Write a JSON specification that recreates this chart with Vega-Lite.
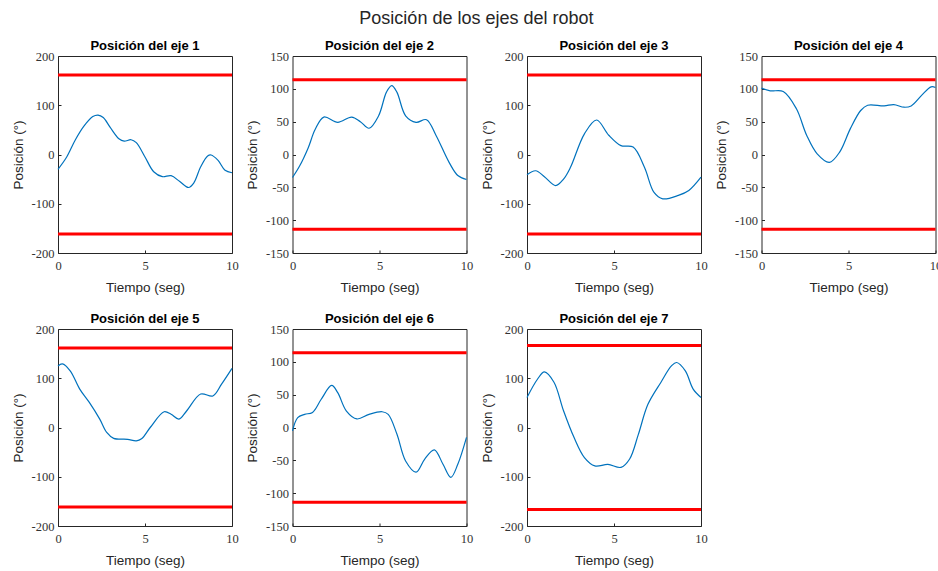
{
  "$schema": "https://vega.github.io/schema/vega-lite/v6.json",
  "background": "white",
  "padding": {"left": 10, "top": 9, "right": 0, "bottom": 0},
  "title": {"text": "Posición de los ejes del robot", "fontSize": 18, "fontWeight": "normal", "font": "Liberation Sans", "color": "#262626", "anchor": "middle", "offset": 12},
  "datasets": {
    "curvas": [
      {"eje": 1, "t": 0, "pos": -30}, {"eje": 1, "t": 0.5, "pos": -5}, {"eje": 1, "t": 1.0, "pos": 30}, {"eje": 1, "t": 1.5, "pos": 58}, {"eje": 1, "t": 2.0, "pos": 77}, {"eje": 1, "t": 2.3, "pos": 80}, {"eje": 1, "t": 2.6, "pos": 75}, {"eje": 1, "t": 3.0, "pos": 55}, {"eje": 1, "t": 3.5, "pos": 32}, {"eje": 1, "t": 3.8, "pos": 27}, {"eje": 1, "t": 4.2, "pos": 30}, {"eje": 1, "t": 4.5, "pos": 24}, {"eje": 1, "t": 5.0, "pos": -5}, {"eje": 1, "t": 5.5, "pos": -35}, {"eje": 1, "t": 6.0, "pos": -45}, {"eje": 1, "t": 6.5, "pos": -43}, {"eje": 1, "t": 7.0, "pos": -55}, {"eje": 1, "t": 7.5, "pos": -67}, {"eje": 1, "t": 7.8, "pos": -58}, {"eje": 1, "t": 8.2, "pos": -25}, {"eje": 1, "t": 8.6, "pos": -3}, {"eje": 1, "t": 8.8, "pos": -1}, {"eje": 1, "t": 9.2, "pos": -12}, {"eje": 1, "t": 9.6, "pos": -32}, {"eje": 1, "t": 10, "pos": -37},
      {"eje": 2, "t": 0, "pos": -35}, {"eje": 2, "t": 0.4, "pos": -18}, {"eje": 2, "t": 0.9, "pos": 10}, {"eje": 2, "t": 1.3, "pos": 38}, {"eje": 2, "t": 1.8, "pos": 57}, {"eje": 2, "t": 2.6, "pos": 49}, {"eje": 2, "t": 3.4, "pos": 57}, {"eje": 2, "t": 3.9, "pos": 50}, {"eje": 2, "t": 4.4, "pos": 40}, {"eje": 2, "t": 4.95, "pos": 59}, {"eje": 2, "t": 5.4, "pos": 95}, {"eje": 2, "t": 5.7, "pos": 105}, {"eje": 2, "t": 6.0, "pos": 95}, {"eje": 2, "t": 6.5, "pos": 59}, {"eje": 2, "t": 7.1, "pos": 49}, {"eje": 2, "t": 7.7, "pos": 53}, {"eje": 2, "t": 8.25, "pos": 29}, {"eje": 2, "t": 9.0, "pos": -12}, {"eje": 2, "t": 9.5, "pos": -32}, {"eje": 2, "t": 10, "pos": -38},
      {"eje": 3, "t": 0, "pos": -41}, {"eje": 3, "t": 0.5, "pos": -33}, {"eje": 3, "t": 1.0, "pos": -45}, {"eje": 3, "t": 1.65, "pos": -63}, {"eje": 3, "t": 2.1, "pos": -50}, {"eje": 3, "t": 2.5, "pos": -26}, {"eje": 3, "t": 3.3, "pos": 42}, {"eje": 3, "t": 4.0, "pos": 70}, {"eje": 3, "t": 4.7, "pos": 39}, {"eje": 3, "t": 5.4, "pos": 18}, {"eje": 3, "t": 6.1, "pos": 15}, {"eje": 3, "t": 6.75, "pos": -26}, {"eje": 3, "t": 7.3, "pos": -77}, {"eje": 3, "t": 7.8, "pos": -90}, {"eje": 3, "t": 8.7, "pos": -83}, {"eje": 3, "t": 9.3, "pos": -73}, {"eje": 3, "t": 10, "pos": -46},
      {"eje": 4, "t": 0, "pos": 101}, {"eje": 4, "t": 0.5, "pos": 97}, {"eje": 4, "t": 1.25, "pos": 96}, {"eje": 4, "t": 2.0, "pos": 70}, {"eje": 4, "t": 2.6, "pos": 29}, {"eje": 4, "t": 3.2, "pos": 1}, {"eje": 4, "t": 3.9, "pos": -12}, {"eje": 4, "t": 4.5, "pos": 4}, {"eje": 4, "t": 5.1, "pos": 39}, {"eje": 4, "t": 5.7, "pos": 67}, {"eje": 4, "t": 6.1, "pos": 75}, {"eje": 4, "t": 7.05, "pos": 74}, {"eje": 4, "t": 7.6, "pos": 76}, {"eje": 4, "t": 8.2, "pos": 72}, {"eje": 4, "t": 8.6, "pos": 74}, {"eje": 4, "t": 9.2, "pos": 90}, {"eje": 4, "t": 9.75, "pos": 103}, {"eje": 4, "t": 10, "pos": 102},
      {"eje": 5, "t": 0, "pos": 125}, {"eje": 5, "t": 0.25, "pos": 129}, {"eje": 5, "t": 0.7, "pos": 115}, {"eje": 5, "t": 1.25, "pos": 78}, {"eje": 5, "t": 1.8, "pos": 51}, {"eje": 5, "t": 2.4, "pos": 17}, {"eje": 5, "t": 2.8, "pos": -10}, {"eje": 5, "t": 3.2, "pos": -22}, {"eje": 5, "t": 4.0, "pos": -24}, {"eje": 5, "t": 4.5, "pos": -27}, {"eje": 5, "t": 4.8, "pos": -23}, {"eje": 5, "t": 5.3, "pos": 0}, {"eje": 5, "t": 6.1, "pos": 32}, {"eje": 5, "t": 6.5, "pos": 27}, {"eje": 5, "t": 6.95, "pos": 17}, {"eje": 5, "t": 7.4, "pos": 34}, {"eje": 5, "t": 8.2, "pos": 68}, {"eje": 5, "t": 8.9, "pos": 64}, {"eje": 5, "t": 9.4, "pos": 88}, {"eje": 5, "t": 10, "pos": 120},
      {"eje": 6, "t": 0, "pos": -5}, {"eje": 6, "t": 0.3, "pos": 15}, {"eje": 6, "t": 0.7, "pos": 20}, {"eje": 6, "t": 1.15, "pos": 23}, {"eje": 6, "t": 1.65, "pos": 43}, {"eje": 6, "t": 2.25, "pos": 64}, {"eje": 6, "t": 2.6, "pos": 53}, {"eje": 6, "t": 3.1, "pos": 25}, {"eje": 6, "t": 3.7, "pos": 13}, {"eje": 6, "t": 4.4, "pos": 20}, {"eje": 6, "t": 5.15, "pos": 24}, {"eje": 6, "t": 5.5, "pos": 20}, {"eje": 6, "t": 6.0, "pos": -10}, {"eje": 6, "t": 6.5, "pos": -51}, {"eje": 6, "t": 7.1, "pos": -68}, {"eje": 6, "t": 7.6, "pos": -48}, {"eje": 6, "t": 8.15, "pos": -34}, {"eje": 6, "t": 8.65, "pos": -56}, {"eje": 6, "t": 9.1, "pos": -76}, {"eje": 6, "t": 9.5, "pos": -56}, {"eje": 6, "t": 10, "pos": -15},
      {"eje": 7, "t": 0, "pos": 61}, {"eje": 7, "t": 0.6, "pos": 98}, {"eje": 7, "t": 1.0, "pos": 113}, {"eje": 7, "t": 1.55, "pos": 92}, {"eje": 7, "t": 2.1, "pos": 34}, {"eje": 7, "t": 2.7, "pos": -20}, {"eje": 7, "t": 3.3, "pos": -61}, {"eje": 7, "t": 3.9, "pos": -78}, {"eje": 7, "t": 4.65, "pos": -75}, {"eje": 7, "t": 5.4, "pos": -81}, {"eje": 7, "t": 5.9, "pos": -64}, {"eje": 7, "t": 6.4, "pos": -14}, {"eje": 7, "t": 6.95, "pos": 47}, {"eje": 7, "t": 7.7, "pos": 92}, {"eje": 7, "t": 8.3, "pos": 125}, {"eje": 7, "t": 8.6, "pos": 132}, {"eje": 7, "t": 9.1, "pos": 115}, {"eje": 7, "t": 9.55, "pos": 78}, {"eje": 7, "t": 10, "pos": 61}
    ],
    "limites": [
      {"eje": 1, "lim": 161.5}, {"eje": 1, "lim": -161.5},
      {"eje": 2, "lim": 114}, {"eje": 2, "lim": -114},
      {"eje": 3, "lim": 161.5}, {"eje": 3, "lim": -161.5},
      {"eje": 4, "lim": 114}, {"eje": 4, "lim": -114},
      {"eje": 5, "lim": 161.5}, {"eje": 5, "lim": -161.5},
      {"eje": 6, "lim": 114}, {"eje": 6, "lim": -114},
      {"eje": 7, "lim": 166.25}, {"eje": 7, "lim": -166.25}
    ]
  },
  "columns": 4,
  "spacing": {"row": 76, "column": 60.5},
  "bounds": "flush",
  "concat": [
    {"title": "Posición del eje 1", "width": 174, "height": 197, "layer": [
      {"data": {"name": "limites"}, "transform": [{"filter": "datum.eje == 1"}], "mark": {"type": "rule", "color": "#ff0000", "strokeWidth": 3}, "encoding": {"y": {"field": "lim", "type": "quantitative", "title": "Posición (°)", "scale": {"domain": [-200, 200], "nice": false}, "axis": {"values": [-200, -100, 0, 100, 200], "labelOverlap": false}}}},
      {"data": {"name": "curvas"}, "transform": [{"filter": "datum.eje == 1"}], "mark": {"type": "line", "color": "#0072BD", "strokeWidth": 1.2, "interpolate": "catmull-rom"}, "encoding": {"x": {"field": "t", "type": "quantitative", "title": "Tiempo (seg)", "scale": {"domain": [0, 10], "nice": false}, "axis": {"values": [0, 5, 10]}}, "y": {"field": "pos", "type": "quantitative", "title": "Posición (°)", "axis": {"values": [-200, -100, 0, 100, 200], "labelOverlap": false}}}}
    ]},
    {"title": "Posición del eje 2", "width": 174, "height": 197, "layer": [
      {"data": {"name": "limites"}, "transform": [{"filter": "datum.eje == 2"}], "mark": {"type": "rule", "color": "#ff0000", "strokeWidth": 3}, "encoding": {"y": {"field": "lim", "type": "quantitative", "title": "Posición (°)", "scale": {"domain": [-150, 150], "nice": false}, "axis": {"values": [-150, -100, -50, 0, 50, 100, 150], "labelOverlap": false}}}},
      {"data": {"name": "curvas"}, "transform": [{"filter": "datum.eje == 2"}], "mark": {"type": "line", "color": "#0072BD", "strokeWidth": 1.2, "interpolate": "catmull-rom"}, "encoding": {"x": {"field": "t", "type": "quantitative", "title": "Tiempo (seg)", "scale": {"domain": [0, 10], "nice": false}, "axis": {"values": [0, 5, 10]}}, "y": {"field": "pos", "type": "quantitative", "title": "Posición (°)", "axis": {"values": [-150, -100, -50, 0, 50, 100, 150], "labelOverlap": false}}}}
    ]},
    {"title": "Posición del eje 3", "width": 174, "height": 197, "layer": [
      {"data": {"name": "limites"}, "transform": [{"filter": "datum.eje == 3"}], "mark": {"type": "rule", "color": "#ff0000", "strokeWidth": 3}, "encoding": {"y": {"field": "lim", "type": "quantitative", "title": "Posición (°)", "scale": {"domain": [-200, 200], "nice": false}, "axis": {"values": [-200, -100, 0, 100, 200], "labelOverlap": false}}}},
      {"data": {"name": "curvas"}, "transform": [{"filter": "datum.eje == 3"}], "mark": {"type": "line", "color": "#0072BD", "strokeWidth": 1.2, "interpolate": "catmull-rom"}, "encoding": {"x": {"field": "t", "type": "quantitative", "title": "Tiempo (seg)", "scale": {"domain": [0, 10], "nice": false}, "axis": {"values": [0, 5, 10]}}, "y": {"field": "pos", "type": "quantitative", "title": "Posición (°)", "axis": {"values": [-200, -100, 0, 100, 200], "labelOverlap": false}}}}
    ]},
    {"title": "Posición del eje 4", "width": 174, "height": 197, "layer": [
      {"data": {"name": "limites"}, "transform": [{"filter": "datum.eje == 4"}], "mark": {"type": "rule", "color": "#ff0000", "strokeWidth": 3}, "encoding": {"y": {"field": "lim", "type": "quantitative", "title": "Posición (°)", "scale": {"domain": [-150, 150], "nice": false}, "axis": {"values": [-150, -100, -50, 0, 50, 100, 150], "labelOverlap": false}}}},
      {"data": {"name": "curvas"}, "transform": [{"filter": "datum.eje == 4"}], "mark": {"type": "line", "color": "#0072BD", "strokeWidth": 1.2, "interpolate": "catmull-rom"}, "encoding": {"x": {"field": "t", "type": "quantitative", "title": "Tiempo (seg)", "scale": {"domain": [0, 10], "nice": false}, "axis": {"values": [0, 5, 10]}}, "y": {"field": "pos", "type": "quantitative", "title": "Posición (°)", "axis": {"values": [-150, -100, -50, 0, 50, 100, 150], "labelOverlap": false}}}}
    ]},
    {"title": "Posición del eje 5", "width": 174, "height": 197, "layer": [
      {"data": {"name": "limites"}, "transform": [{"filter": "datum.eje == 5"}], "mark": {"type": "rule", "color": "#ff0000", "strokeWidth": 3}, "encoding": {"y": {"field": "lim", "type": "quantitative", "title": "Posición (°)", "scale": {"domain": [-200, 200], "nice": false}, "axis": {"values": [-200, -100, 0, 100, 200], "labelOverlap": false}}}},
      {"data": {"name": "curvas"}, "transform": [{"filter": "datum.eje == 5"}], "mark": {"type": "line", "color": "#0072BD", "strokeWidth": 1.2, "interpolate": "catmull-rom"}, "encoding": {"x": {"field": "t", "type": "quantitative", "title": "Tiempo (seg)", "scale": {"domain": [0, 10], "nice": false}, "axis": {"values": [0, 5, 10]}}, "y": {"field": "pos", "type": "quantitative", "title": "Posición (°)", "axis": {"values": [-200, -100, 0, 100, 200], "labelOverlap": false}}}}
    ]},
    {"title": "Posición del eje 6", "width": 174, "height": 197, "layer": [
      {"data": {"name": "limites"}, "transform": [{"filter": "datum.eje == 6"}], "mark": {"type": "rule", "color": "#ff0000", "strokeWidth": 3}, "encoding": {"y": {"field": "lim", "type": "quantitative", "title": "Posición (°)", "scale": {"domain": [-150, 150], "nice": false}, "axis": {"values": [-150, -100, -50, 0, 50, 100, 150], "labelOverlap": false}}}},
      {"data": {"name": "curvas"}, "transform": [{"filter": "datum.eje == 6"}], "mark": {"type": "line", "color": "#0072BD", "strokeWidth": 1.2, "interpolate": "catmull-rom"}, "encoding": {"x": {"field": "t", "type": "quantitative", "title": "Tiempo (seg)", "scale": {"domain": [0, 10], "nice": false}, "axis": {"values": [0, 5, 10]}}, "y": {"field": "pos", "type": "quantitative", "title": "Posición (°)", "axis": {"values": [-150, -100, -50, 0, 50, 100, 150], "labelOverlap": false}}}}
    ]},
    {"title": "Posición del eje 7", "width": 174, "height": 197, "layer": [
      {"data": {"name": "limites"}, "transform": [{"filter": "datum.eje == 7"}], "mark": {"type": "rule", "color": "#ff0000", "strokeWidth": 3}, "encoding": {"y": {"field": "lim", "type": "quantitative", "title": "Posición (°)", "scale": {"domain": [-200, 200], "nice": false}, "axis": {"values": [-200, -100, 0, 100, 200], "labelOverlap": false}}}},
      {"data": {"name": "curvas"}, "transform": [{"filter": "datum.eje == 7"}], "mark": {"type": "line", "color": "#0072BD", "strokeWidth": 1.2, "interpolate": "catmull-rom"}, "encoding": {"x": {"field": "t", "type": "quantitative", "title": "Tiempo (seg)", "scale": {"domain": [0, 10], "nice": false}, "axis": {"values": [0, 5, 10]}}, "y": {"field": "pos", "type": "quantitative", "title": "Posición (°)", "axis": {"values": [-200, -100, 0, 100, 200], "labelOverlap": false}}}}
    ]}
  ],
  "config": {
    "view": {"stroke": "#262626", "strokeWidth": 1},
    "title": {"fontSize": 13, "fontWeight": "bold", "font": "Liberation Sans", "color": "#000000", "offset": -3},
    "axis": {"grid": false, "domain": false, "tickColor": "#262626", "tickSize": -3, "labelOverlap": false, "labelFont": "Liberation Serif", "labelFontSize": 12.5, "labelColor": "#333333", "titleFont": "Liberation Sans", "titleFontSize": 13.5, "titleFontWeight": "normal", "titleColor": "#262626", "labelExpr": "replace(datum.label, '−', '-')"},
    "axisX": {"labelPadding": 9, "titlePadding": 9, "labelFlush": false},
    "axisY": {"labelPadding": 7, "titlePadding": 6}
  }
}
